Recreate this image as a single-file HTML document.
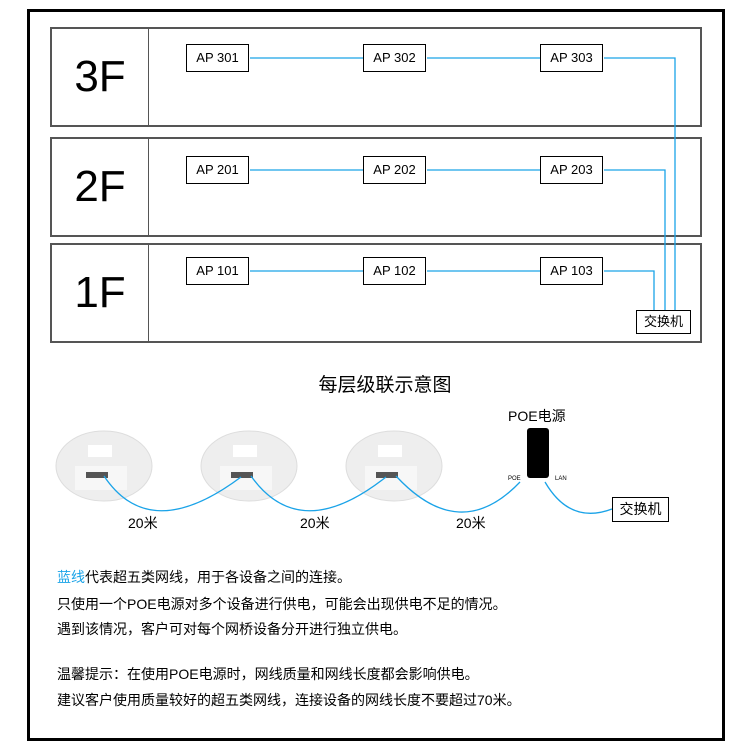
<!DOCTYPE html>
<html><head><meta charset="utf-8"><style>
body{margin:0;width:750px;height:744px;background:#fff;position:relative;font-family:"Liberation Sans","Noto Sans CJK SC",sans-serif;overflow:hidden}
.a{position:absolute}
.fl{position:absolute;left:50px;width:648px;border:2px solid #555;}
.fl .lab{position:absolute;left:0;top:0;bottom:0;width:96px;border-right:1px solid #555;font-size:44px;text-align:center;color:#000}
.ap{position:absolute;width:61px;height:26px;border:1px solid #000;font-size:13px;text-align:center;line-height:26px;background:#fff}
.t{position:absolute;left:57px;font-size:14px;color:#000;white-space:nowrap}
</style></head><body>
<div class="a" style="left:27px;top:9px;width:692px;height:726px;border:3px solid #000"></div>
<div class="fl" style="top:27px;height:96px"><div class="lab" style="line-height:96px">3F</div></div>
<div class="fl" style="top:137px;height:96px"><div class="lab" style="line-height:96px">2F</div></div>
<div class="fl" style="top:243px;height:96px"><div class="lab" style="line-height:96px">1F</div></div>
<svg class="a" style="left:0;top:0" width="750" height="744">
<g>
<ellipse cx="104" cy="466" rx="48" ry="35" fill="#eee" stroke="#ddd"/>
<ellipse cx="249" cy="466" rx="48" ry="35" fill="#eee" stroke="#ddd"/>
<ellipse cx="394" cy="466" rx="48" ry="35" fill="#eee" stroke="#ddd"/>
<rect x="75" y="466" width="52" height="24" fill="#f7f7f7"/>
<rect x="220" y="466" width="52" height="24" fill="#f7f7f7"/>
<rect x="365" y="466" width="52" height="24" fill="#f7f7f7"/>
<rect x="86" y="472" width="22" height="6" fill="#555"/><rect x="231" y="472" width="22" height="6" fill="#555"/><rect x="376" y="472" width="22" height="6" fill="#555"/>
<rect x="88" y="445" width="24" height="12" fill="#fff"/><rect x="233" y="445" width="24" height="12" fill="#fff"/><rect x="378" y="445" width="24" height="12" fill="#fff"/>
<rect x="527" y="428" width="22" height="50" rx="3" fill="#000"/>
</g>
<g stroke="#1aa3e8" stroke-width="1.3" fill="none">
<path d="M250 58H364M427 58H541M604 58H675V310"/>
<path d="M250 170H364M427 170H541M604 170H665V310"/>
<path d="M250 271H364M427 271H541M604 271H654V310"/>
<path d="M104 476 Q150 545 241 477 M251 476 Q300 545 386 477 M396 476 Q460 545 520 482 M545 482 Q570 525 612 509"/>
</g>
</svg>
<div class="ap" style="left:186px;top:44px">AP 301</div>
<div class="ap" style="left:363px;top:44px">AP 302</div>
<div class="ap" style="left:540px;top:44px">AP 303</div>
<div class="ap" style="left:186px;top:156px">AP 201</div>
<div class="ap" style="left:363px;top:156px">AP 202</div>
<div class="ap" style="left:540px;top:156px">AP 203</div>
<div class="ap" style="left:186px;top:257px">AP 101</div>
<div class="ap" style="left:363px;top:257px">AP 102</div>
<div class="ap" style="left:540px;top:257px">AP 103</div>
<div class="ap" style="left:636px;top:310px;width:53px;height:22px;line-height:22px;font-size:13px">交换机</div>
<div class="a" style="left:0;width:770px;top:370px;text-align:center;font-size:19px">每层级联示意图</div>
<div class="a" style="left:508px;top:406px;font-size:14px">POE电源</div>
<div class="a" style="left:508px;top:476px;font-size:6px">POE</div>
<div class="a" style="left:555px;top:476px;font-size:6px">LAN</div>
<div class="ap" style="left:612px;top:497px;width:55px;height:23px;line-height:23px;font-size:14px">交换机</div>
<div class="a" style="left:128px;top:513px;font-size:14px">20米</div>
<div class="a" style="left:300px;top:513px;font-size:14px">20米</div>
<div class="a" style="left:456px;top:513px;font-size:14px">20米</div>
<div class="t" style="top:567px"><span style="color:#1aa3e8">蓝线</span>代表超五类网线，用于各设备之间的连接。</div>
<div class="t" style="top:594px">只使用一个POE电源对多个设备进行供电，可能会出现供电不足的情况。</div>
<div class="t" style="top:619px">遇到该情况，客户可对每个网桥设备分开进行独立供电。</div>
<div class="t" style="top:664px">温馨提示：在使用POE电源时，网线质量和网线长度都会影响供电。</div>
<div class="t" style="top:690px">建议客户使用质量较好的超五类网线，连接设备的网线长度不要超过70米。</div>
</body></html>
